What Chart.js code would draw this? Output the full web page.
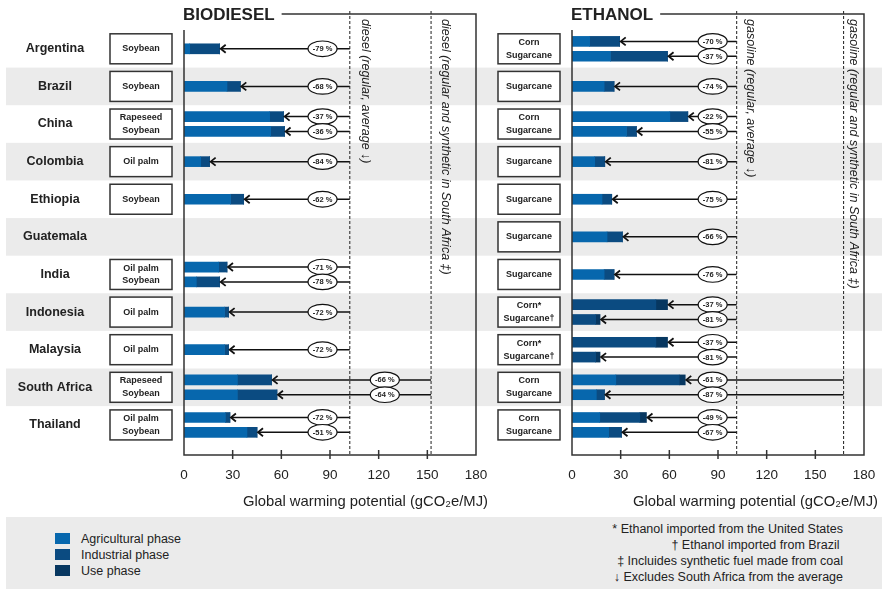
<!DOCTYPE html>
<html>
<head>
<meta charset="utf-8">
<script src="https://cdn.jsdelivr.net/npm/chart.js@4.4.1/dist/chart.umd.min.js"></script>
<style>
  body { margin: 0; background: #fff; font-family: "Liberation Sans", Arial, sans-serif; color: #222; }
  #wrap { position: relative; width: 882px; height: 589px; overflow: hidden; }
  #left { position: absolute; left: 0; top: 0; }
  #right { position: absolute; left: 490px; top: 0; }
  #bottom { position: absolute; left: 6px; top: 517px; width: 876px; height: 72px; background: #ebebeb; }
  .key { position: absolute; left: 49px; height: 16px; line-height: 16px; font-size: 12.5px; }
  .key span { position: absolute; left: 0; top: 2px; width: 15px; height: 11px; }
  .key b { position: absolute; left: 26px; font-weight: normal; white-space: nowrap; }
  .note { position: absolute; right: 39px; font-size: 12.5px; white-space: nowrap; line-height: 16px; }
</style>
</head>
<body>
<div id="wrap">
  <canvas id="left" width="490" height="515"></canvas>
  <canvas id="right" width="392" height="515"></canvas>
  <div id="bottom"></div>
</div>
<script>
const countries = ['Argentina', 'Brazil', 'China', 'Colombia', 'Ethiopia', 'Guatemala',
  'India', 'Indonesia', 'Malaysia', 'South Africa', 'Thailand'];
const xTicks = [0, 30, 60, 90, 120, 150, 180];
const phases = ['Agricultural phase', 'Industrial phase', 'Use phase'];
const phaseColors = ['#0767ad', '#0b4b81', '#073760'];

// biodiesel (gCO2e/MJ)
const bioRow  = [0, 1, 2, 2, 3, 4, 6, 6, 7, 8, 9, 9, 10, 10];
const bioFeed = ['Soybean', 'Soybean', 'Rapeseed', 'Soybean', 'Oil palm', 'Soybean', 'Oil palm', 'Soybean',
  'Oil palm', 'Oil palm', 'Rapeseed', 'Soybean', 'Oil palm', 'Soybean'];
const bioAgri = [3.5, 26.5, 52.8, 53.4, 10.3, 28.7, 21.4, 7.6, 25, 25, 32.9, 32.9, 25.5, 38.8];
const bioInd  = [18.5, 8.2, 8.6, 8.6, 5.5, 8.1, 5.1, 14.4, 2.5, 2.5, 21.1, 24.4, 2.8, 6.2];
const bioUse  = [0, 0, 0, 0, 0, 0, 0, 0, 0, 0, 0, 0, 0, 0];
const bioCut  = [-79, -68, -37, -36, -84, -62, -71, -78, -72, -72, -66, -64, -72, -51];
const bioFossil = [102.2, 152.3];
const bioFossilText = ['diesel (regular, average \u2193)', 'diesel (regular and synthetic in South Africa \u2021)'];

// ethanol (gCO2e/MJ)
const ethRow  = [0, 0, 1, 2, 2, 3, 4, 5, 6, 7, 7, 8, 8, 9, 9, 10, 10];
const ethFeed = ['Corn', 'Sugarcane', 'Sugarcane', 'Corn', 'Sugarcane', 'Sugarcane', 'Sugarcane', 'Sugarcane',
  'Sugarcane', 'Corn*', 'Sugarcane\u2020', 'Corn*', 'Sugarcane\u2020', 'Corn', 'Sugarcane', 'Corn', 'Sugarcane'];
const ethAgri = [10.9, 23.7, 19.8, 60.3, 33.6, 14, 18.5, 21.6, 19.8, 0, 0, 0, 0, 27, 15, 17.1, 22.6];
const ethInd  = [18.5, 35.2, 6.1, 11.1, 6.1, 6.2, 6, 9.5, 6.1, 51.7, 14.6, 51.7, 14.6, 39.1, 5, 24.7, 7.9];
const ethUse  = [0, 0, 0, 0, 0, 0, 0, 0, 0, 7.2, 2.7, 7.2, 2.7, 3.7, 0, 4.1, 0];
const ethCut  = [-70, -37, -74, -22, -55, -81, -75, -66, -76, -37, -81, -37, -81, -61, -87, -49, -67];
const ethFossil = [101.5, 167.4];
const ethFossilText = ['gasoline (regular, average \u2193)', 'gasoline (regular and synthetic in South Africa \u2021)'];

const notes = ['* Ethanol imported from the United States', '\u2020 Ethanol imported from Brazil\u00a0',
  '\u2021 Incluides synthetic fuel made from coal', '\u2193 Excludes South Africa from the average'];

const FONT = '"Liberation Sans", Arial, sans-serif';
const SA = countries.indexOf('South Africa');

// two bars in a row sit above / below the row centre
function slots(rows) {
  return rows.map((r, i) => {
    const n = rows.filter(v => v === r).length;
    if (n === 1) return r;
    const k = rows.slice(0, i).filter(v => v === r).length;
    return r + (k === 0 ? -0.197 : 0.197);
  });
}

function panelPlugin(p, ys) {
  return {
    id: 'panel' + p.canvas,
    beforeDraw(chart) {
      const { ctx, scales: { y } } = chart;
      ctx.save();
      ctx.fillStyle = '#ebebeb';
      countries.forEach((c, i) => {
        if (i % 2 === 1) {
          const t = y.getPixelForValue(i - 0.5), b = y.getPixelForValue(i + 0.5);
          ctx.fillRect(p.bandLeft, t, chart.width - p.bandLeft, b - t);
        }
      });
      ctx.restore();
    },
    afterDatasetsDraw(chart) {
      const { ctx, chartArea: a, scales: { x, y } } = chart;
      ctx.save();
      ctx.strokeStyle = '#333';
      ctx.fillStyle = '#222';

      // title + frame
      ctx.font = 'bold 17px ' + FONT;
      ctx.textBaseline = 'middle';
      ctx.textAlign = 'left';
      ctx.fillText(p.title, a.left - 1, 15);
      const tw = ctx.measureText(p.title).width;
      ctx.lineWidth = 1.5;
      ctx.beginPath();
      ctx.moveTo(a.left - 1 + tw + 7, 14); ctx.lineTo(a.right, 14); ctx.lineTo(a.right, a.bottom);
      ctx.lineTo(a.left, a.bottom); ctx.lineTo(a.left, a.top);
      ctx.stroke();
      xTicks.slice(1, -1).forEach(v => {
        const px = x.getPixelForValue(v);
        ctx.beginPath(); ctx.moveTo(px, a.bottom - 5); ctx.lineTo(px, a.bottom + 4); ctx.stroke();
      });

      // fossil reference lines
      ctx.lineWidth = 1.1;
      ctx.setLineDash([3, 2]);
      p.fossil.forEach(f => {
        const px = x.getPixelForValue(f);
        ctx.beginPath(); ctx.moveTo(px, 11); ctx.lineTo(px, a.bottom); ctx.stroke();
      });
      ctx.setLineDash([]);
      ctx.font = 'italic 12.5px ' + FONT;
      p.fossilText.forEach((t, j) => {
        ctx.save();
        ctx.translate(x.getPixelForValue(p.fossil[j]) + p.textOff[j], 19);
        ctx.rotate(Math.PI / 2);
        ctx.textBaseline = 'middle';
        ctx.fillText(t, 0, 0);
        ctx.restore();
      });

      // country names
      if (p.names) {
        ctx.font = 'bold 12.5px ' + FONT;
        ctx.textAlign = 'center';
        countries.forEach((c, i) => ctx.fillText(c, 55, y.getPixelForValue(i)));
      }

      // feedstock boxes
      ctx.lineWidth = 1.5;
      ctx.font = 'bold 9px ' + FONT;
      ctx.textAlign = 'center';
      [...new Set(p.rows)].forEach(r => {
        const cy = y.getPixelForValue(r);
        const bx = a.left - 74, bw = 62;
        ctx.fillStyle = '#fff';
        ctx.fillRect(bx, cy - 15, bw, 30);
        ctx.strokeRect(bx, cy - 15, bw, 30);
        ctx.fillStyle = '#222';
        const lines = p.feed.filter((f, i) => p.rows[i] === r);
        lines.forEach((t, k) => {
          const dy = lines.length === 1 ? 0 : (k === 0 ? -6.4 : 6.4);
          ctx.fillText(t, bx + bw / 2, cy + dy);
        });
      });

      // arrows from the fossil reference to each bar, with the reduction label
      p.rows.forEach((r, i) => {
        const total = p.agri[i] + p.ind[i] + p.use[i];
        const k = r === SA ? 1 : 0;
        const x0 = x.getPixelForValue(p.fossil[k]);
        const x1 = x.getPixelForValue(total) + 1;
        const cy = y.getPixelForValue(ys[i]);
        ctx.strokeStyle = '#111';
        ctx.lineWidth = 1.5;
        ctx.beginPath(); ctx.moveTo(x0, cy); ctx.lineTo(x1 + 1, cy); ctx.stroke();
        ctx.lineWidth = 1.8;
        ctx.beginPath(); ctx.moveTo(x1 + 5, cy - 4); ctx.lineTo(x1, cy); ctx.lineTo(x1 + 5, cy + 4); ctx.stroke();
        const ex = x.getPixelForValue(p.labelAt[k]);
        ctx.lineWidth = 1.2;
        ctx.fillStyle = '#fff';
        ctx.beginPath(); ctx.ellipse(ex, cy, 14.5, 7.8, 0, 0, Math.PI * 2); ctx.fill(); ctx.stroke();
        ctx.fillStyle = '#222';
        ctx.font = 'bold 7.5px ' + FONT;
        ctx.textAlign = 'center';
        ctx.fillText(p.cut[i] + ' %', ex, cy + 0.5);
      });

      // axis title
      ctx.font = '14.8px ' + FONT;
      ctx.textAlign = 'right';
      ctx.textBaseline = 'alphabetic';
      ctx.fillStyle = '#222';
      ctx.fillText('Global warming potential (gCO\u2082e/MJ)', a.right + p.titleOff, 506);
      ctx.restore();
    }
  };
}

function buildPanel(p) {
  const ys = slots(p.rows);
  const datasets = [p.agri, p.ind, p.use].map((vals, j) => ({
    label: phases[j],
    data: vals.map((v, i) => ({ x: v, y: ys[i] })),
    backgroundColor: phaseColors[j],
    borderWidth: 0,
    barThickness: 10
  }));
  return new Chart(document.getElementById(p.canvas), {
    type: 'bar',
    data: { datasets },
    options: {
      indexAxis: 'y',
      responsive: false,
      animation: false,
      layout: { padding: { left: p.padLeft, right: p.padRight, top: 30, bottom: 30 } },
      plugins: { legend: { display: false }, tooltip: { enabled: false } },
      scales: {
        x: {
          type: 'linear', stacked: true, min: 0, max: 180,
          grid: { display: false, drawTicks: false },
          border: { display: false },
          afterBuildTicks: s => { s.ticks = xTicks.map(v => ({ value: v })); },
          afterFit: s => { s.paddingLeft = 0; s.paddingRight = 0; s.height = 30; },
          ticks: { padding: 12, color: '#222', font: { family: FONT, size: 13.5 } }
        },
        y: { type: 'linear', stacked: true, reverse: true, offset: false, min: -0.5, max: 10.8, display: false }
      }
    },
    plugins: [panelPlugin(p, ys)]
  });
}

buildPanel({
  canvas: 'left', title: 'BIODIESEL', names: true, bandLeft: 6, padLeft: 184, padRight: 14, titleOff: 12,
  rows: bioRow, feed: bioFeed, agri: bioAgri, ind: bioInd, use: bioUse, cut: bioCut,
  fossil: bioFossil, fossilText: bioFossilText, textOff: [16, 14], labelAt: [85.4, 123.8]
});
buildPanel({
  canvas: 'right', title: 'ETHANOL', names: false, bandLeft: 0, padLeft: 82, padRight: 18, titleOff: 14,
  rows: ethRow, feed: ethFeed, agri: ethAgri, ind: ethInd, use: ethUse, cut: ethCut,
  fossil: ethFossil, fossilText: ethFossilText, textOff: [14, 10], labelAt: [86.7, 86.7]
});

// legend and footnotes
const bottom = document.getElementById('bottom');
phases.forEach((ph, j) => {
  const d = document.createElement('div');
  d.className = 'key';
  d.style.top = (14 + j * 16) + 'px';
  d.innerHTML = `<span style="background:${phaseColors[j]}"></span><b>${ph}</b>`;
  bottom.appendChild(d);
});
notes.forEach((n, j) => {
  const d = document.createElement('div');
  d.className = 'note';
  d.style.top = (4 + j * 16) + 'px';
  d.textContent = n;
  bottom.appendChild(d);
});
</script>
</body>
</html>
